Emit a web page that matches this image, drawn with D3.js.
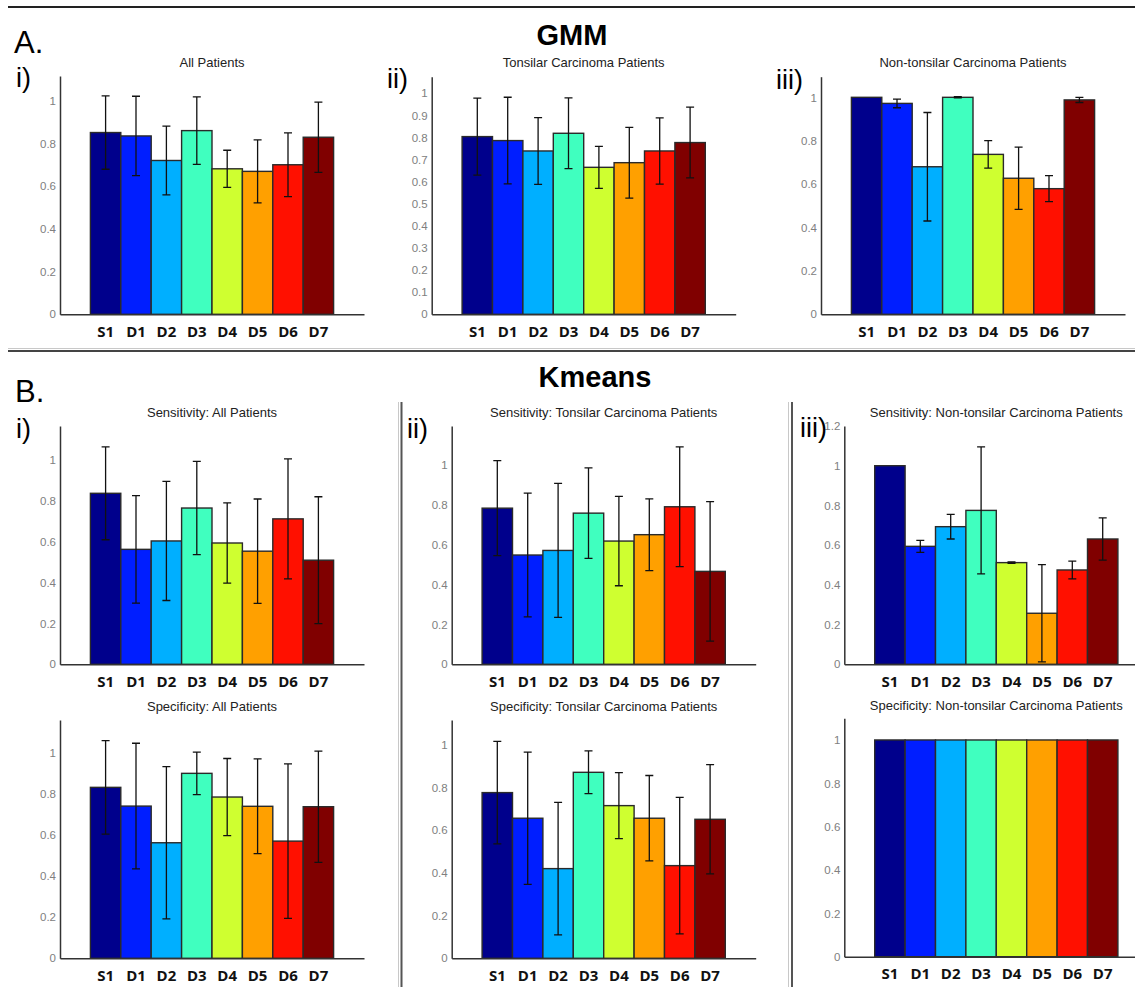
<!DOCTYPE html>
<html>
  <head>
    <title>GMM / Kmeans</title>
    <meta charset="utf-8">
    <style>
      body { margin: 0; background-color: white; }
      .panelTitle { font: 13px "Liberation Sans", Arial, sans-serif; fill: #222; text-anchor: middle; }
      .bigTitle { font: bold 29px "Liberation Sans", Arial, sans-serif; fill: #000; text-anchor: middle; }
      .letter { font: 31px "Liberation Sans", Arial, sans-serif; fill: #000; }
      .roman { font: 27px "Liberation Sans", Arial, sans-serif; fill: #000; }
      .y.axis text { font: 11.5px "Liberation Sans", Arial, sans-serif; fill: #808080; }
      .x.axis text { font: bold 15px "Open Sans", sans-serif; fill: #111; }
      .axis path { stroke: #333; stroke-width: 1.5px; }
      .bar { stroke: #2a2a2a; stroke-width: 1.4px; }
      .err { stroke: #111; stroke-width: 1.3px; fill: none; }
    </style>
  </head>
  <body>
  <svg id="chart" width="1135" height="987"></svg>
  <script src="https://d3js.org/d3.v7.min.js"></script>
  <script>

  var categories = ["S1", "D1", "D2", "D3", "D4", "D5", "D6", "D7"];
  var barColors = ["#00008C", "#001EFF", "#00AFFF", "#40FFBF", "#CFFF30", "#FFA000", "#FF1000", "#800000"];

  // GMM
  var gmmAllMean = [0.852, 0.836, 0.721, 0.861, 0.682, 0.670, 0.701, 0.830];
  var gmmAllErr = [0.172, 0.186, 0.161, 0.158, 0.087, 0.148, 0.149, 0.165];
  var gmmTonsilMean = [0.804, 0.786, 0.739, 0.819, 0.665, 0.686, 0.739, 0.777];
  var gmmTonsilErr = [0.174, 0.196, 0.151, 0.160, 0.095, 0.160, 0.150, 0.160];
  var gmmNonTonsilMean = [1.0, 0.972, 0.680, 1.0, 0.737, 0.627, 0.579, 0.988];
  var gmmNonTonsilErr = [0, 0.020, 0.250, 0.003, 0.063, 0.143, 0.060, 0.012];

  // Kmeans sensitivity
  var kmSensAllMean = [0.836, 0.562, 0.603, 0.764, 0.593, 0.553, 0.711, 0.509];
  var kmSensAllErr = [0.227, 0.263, 0.291, 0.228, 0.196, 0.255, 0.293, 0.310];
  var kmSensTonsilMean = [0.783, 0.548, 0.571, 0.758, 0.618, 0.650, 0.790, 0.466];
  var kmSensTonsilErr = [0.238, 0.310, 0.336, 0.227, 0.224, 0.180, 0.300, 0.350];
  var kmSensNonTonsilMean = [1.0, 0.594, 0.693, 0.775, 0.512, 0.257, 0.475, 0.631];
  var kmSensNonTonsilErr = [0, 0.030, 0.062, 0.320, 0.004, 0.245, 0.045, 0.106];

  // Kmeans specificity
  var kmSpecAllMean = [0.830, 0.739, 0.561, 0.898, 0.783, 0.738, 0.569, 0.736];
  var kmSpecAllErr = [0.227, 0.305, 0.370, 0.103, 0.187, 0.230, 0.375, 0.270];
  var kmSpecTonsilMean = [0.776, 0.656, 0.420, 0.871, 0.715, 0.656, 0.434, 0.651];
  var kmSpecTonsilErr = [0.240, 0.310, 0.310, 0.100, 0.155, 0.200, 0.320, 0.256];
  var kmSpecNonTonsilMean = [1, 1, 1, 1, 1, 1, 1, 1];
  var kmSpecNonTonsilErr = [0, 0, 0, 0, 0, 0, 0, 0];

  var ticksFifth = [0, 0.2, 0.4, 0.6, 0.8, 1];
  var ticksTenth = [0, 0.1, 0.2, 0.3, 0.4, 0.5, 0.6, 0.7, 0.8, 0.9, 1];
  var ticksFifthTo12 = [0, 0.2, 0.4, 0.6, 0.8, 1, 1.2];

  var svg = d3.select("#chart");

  // panel frames: left = y axis x, top/base = y range, ymax = axis top value
  var panels = [
    {title: "All Patients", mean: gmmAllMean, err: gmmAllErr, ticks: ticksFifth,
     left: 60, top: 76, base: 314.3, ymax: 1.117, titleY: 67},
    {title: "Tonsilar Carcinoma Patients", mean: gmmTonsilMean, err: gmmTonsilErr, ticks: ticksTenth,
     left: 431.7, top: 76.7, base: 314.3, ymax: 1.075, titleY: 67},
    {title: "Non-tonsilar Carcinoma Patients", mean: gmmNonTonsilMean, err: gmmNonTonsilErr, ticks: ticksFifth,
     left: 821, top: 76.7, base: 314.3, ymax: 1.095, titleY: 67},
    {title: "Sensitivity: All Patients", mean: kmSensAllMean, err: kmSensAllErr, ticks: ticksFifth,
     left: 60, top: 426, base: 664.3, ymax: 1.165, titleY: 417},
    {title: "Sensitivity: Tonsilar Carcinoma Patients", mean: kmSensTonsilMean, err: kmSensTonsilErr, ticks: ticksFifth,
     left: 451.7, top: 426, base: 664.3, ymax: 1.195, titleY: 417},
    {title: "Sensitivity: Non-tonsilar Carcinoma Patients", mean: kmSensNonTonsilMean, err: kmSensNonTonsilErr, ticks: ticksFifthTo12,
     left: 844.3, top: 426, base: 664.3, ymax: 1.2, titleY: 417},
    {title: "Specificity: All Patients", mean: kmSpecAllMean, err: kmSpecAllErr, ticks: ticksFifth,
     left: 60, top: 720, base: 958.3, ymax: 1.157, titleY: 711},
    {title: "Specificity: Tonsilar Carcinoma Patients", mean: kmSpecTonsilMean, err: kmSpecTonsilErr, ticks: ticksFifth,
     left: 451.7, top: 720, base: 958.3, ymax: 1.116, titleY: 711},
    {title: "Specificity: Non-tonsilar Carcinoma Patients", mean: kmSpecNonTonsilMean, err: kmSpecNonTonsilErr, ticks: ticksFifth,
     left: 844.3, top: 718.3, base: 956.7, ymax: 1.1, titleY: 709.5}
  ];

  var axisLength = 304;

  panels.forEach(function(p) {
    var x = d3.scaleBand()
      .domain(categories)
      .range([p.left, p.left + axisLength])
      .paddingInner(0)
      .paddingOuter(1);

    var y = d3.scaleLinear()
      .domain([0, p.ymax])
      .range([p.base, p.top]);

    var g = svg.append("g");

    var rows = categories.map(function(c, i) {
      return {cat: c, v: p.mean[i], e: p.err[i], color: barColors[i]};
    });

    g.selectAll("rect")
      .data(rows)
      .enter().append("rect")
      .attr("class", "bar")
      .attr("x", function(d) { return x(d.cat); })
      .attr("width", x.bandwidth())
      .attr("y", function(d) { return y(d.v); })
      .attr("height", function(d) { return y(0) - y(d.v); })
      .style("fill", function(d) { return d.color; });

    // error bars
    var eb = g.selectAll(".eb")
      .data(rows.filter(function(d) { return d.e > 0; }))
      .enter().append("g")
      .attr("class", "eb");

    eb.append("path")
      .attr("class", "err")
      .attr("d", function(d) {
        var cx = x(d.cat) + x.bandwidth() / 2;
        var y1 = y(d.v + d.e), y2 = y(d.v - d.e);
        return "M" + cx + "," + y1 + "V" + y2 +
          "M" + (cx - 4) + "," + y1 + "H" + (cx + 4) +
          "M" + (cx - 4) + "," + y2 + "H" + (cx + 4);
      });

    g.append("g")
      .attr("class", "y axis")
      .attr("transform", "translate(" + p.left + ",0)")
      .call(d3.axisLeft(y).tickValues(p.ticks).tickSize(0).tickPadding(4)
        .tickFormat(function(d) { return String(+d.toFixed(1)); }));

    g.append("g")
      .attr("class", "x axis")
      .attr("transform", "translate(0," + p.base + ")")
      .call(d3.axisBottom(x).tickSize(0).tickPadding(12));

    g.append("text")
      .attr("class", "panelTitle")
      .attr("x", p.left + axisLength / 2 + 0)
      .attr("y", p.titleY)
      .text(p.title);
  });

  // section separators
  svg.append("line").attr("x1", 8).attr("x2", 1135).attr("y1", 7).attr("y2", 7)
    .style("stroke", "#222").style("stroke-width", 2);
  svg.append("line").attr("x1", 8).attr("x2", 1135).attr("y1", 348.5).attr("y2", 348.5)
    .style("stroke", "#c8c8c8").style("stroke-width", 1);
  svg.append("line").attr("x1", 8).attr("x2", 1135).attr("y1", 351).attr("y2", 351)
    .style("stroke", "#444").style("stroke-width", 2);

  [[398.5, "#c8c8c8", 1], [401.5, "#555", 2], [788.5, "#c8c8c8", 1], [792, "#555", 2]].forEach(function(l) {
    svg.append("line").attr("x1", l[0]).attr("x2", l[0]).attr("y1", 402).attr("y2", 987)
      .style("stroke", l[1]).style("stroke-width", l[2]);
  });

  // headings and panel numbering
  svg.append("text").attr("class", "bigTitle").attr("x", 572).attr("y", 45).text("GMM");
  svg.append("text").attr("class", "bigTitle").attr("x", 595).attr("y", 387).text("Kmeans");

  svg.append("text").attr("class", "letter").attr("x", 14).attr("y", 53).text("A.");
  svg.append("text").attr("class", "letter").attr("x", 15).attr("y", 402).text("B.");

  var romans = [
    ["i)", 16, 87], ["ii)", 387, 88], ["iii)", 776, 89],
    ["i)", 16, 438], ["ii)", 407, 438], ["iii)", 800, 437]
  ];
  romans.forEach(function(r) {
    svg.append("text").attr("class", "roman").attr("x", r[1]).attr("y", r[2]).text(r[0]);
  });

  </script>
  </body>
</html>
